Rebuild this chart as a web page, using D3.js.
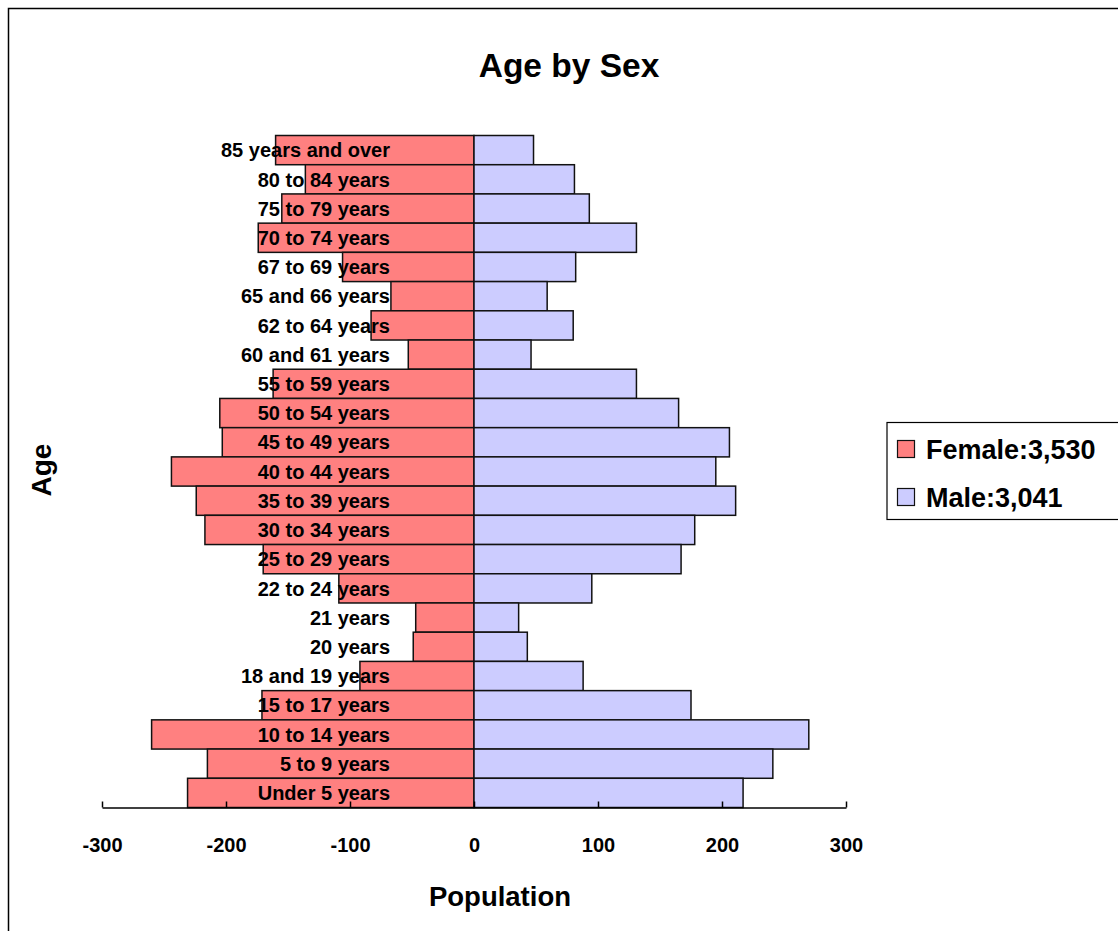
<!DOCTYPE html>
<html>
<head>
<meta charset="utf-8">
<script src="https://cdn.jsdelivr.net/npm/d3@7"></script>
<style>
  html, body { margin: 0; padding: 0; background: #fff; }
  svg { display: block; }
  text { font-family: "Liberation Sans", Arial, sans-serif; fill: #000; }
</style>
</head>
<body>
<svg id="chart" width="1118" height="931"></svg>
<script>
// Data (top to bottom)
const categories = ["85 years and over","80 to 84 years","75 to 79 years","70 to 74 years","67 to 69 years","65 and 66 years","62 to 64 years","60 and 61 years","55 to 59 years","50 to 54 years","45 to 49 years","40 to 44 years","35 to 39 years","30 to 34 years","25 to 29 years","22 to 24 years","21 years","20 years","18 and 19 years","15 to 17 years","10 to 14 years","5 to 9 years","Under 5 years"];
const femaleValues = [160,136,155,174,106,67,83,53,162,205,203,244,224,217,170,109,47,49,92,171,260,215,231];
const maleValues   = [48,81,93,131,82,59,80,46,131,165,206,195,211,178,167,95,36,43,88,175,270,241,217];
const tickValues = [-300,-200,-100,0,100,200,300];
const seriesNames = ["Female:3,530","Male:3,041"];
const colors = ["#FF8080","#CCCCFF"];
const titleText = "Age by Sex";
const xTitle = "Population";
const yTitle = "Age";

const svg = d3.select("#chart");

// outer border
svg.append("rect").attr("x",8.5).attr("y",8.5).attr("width",1300).attr("height",1100)
  .attr("fill","none").attr("stroke","#000").attr("stroke-width",1.5);

const x = d3.scaleLinear().domain([-300,300]).range([102,846]);
const y = d3.scaleBand().domain(categories).range([135.5,807.5]).padding(0);

const rows = categories.map((c,i)=>({c, f: femaleValues[i], m: maleValues[i]}));

svg.append("g").selectAll("rect").data(rows).join("rect")
  .attr("x", d=>x(-d.f)).attr("y", d=>y(d.c))
  .attr("width", d=>x(0)-x(-d.f)).attr("height", y.bandwidth())
  .attr("fill", colors[0]).attr("stroke","#111").attr("stroke-width",1.5);

svg.append("g").selectAll("rect").data(rows).join("rect")
  .attr("x", x(0)).attr("y", d=>y(d.c))
  .attr("width", d=>x(d.m)-x(0)).attr("height", y.bandwidth())
  .attr("fill", colors[1]).attr("stroke","#111").attr("stroke-width",1.5);

// x axis
const axis = svg.append("g").attr("transform","translate(0,807.5)")
  .call(d3.axisBottom(x).tickValues(tickValues).tickSizeInner(-6).tickSizeOuter(0).tickPadding(30).tickFormat(d => String(d)));
axis.select(".domain").attr("stroke","#000").attr("stroke-width",1.5);
axis.selectAll(".tick line").attr("stroke","#000").attr("stroke-width",1.5);
axis.selectAll(".tick text").attr("font-size",20).attr("font-weight","bold")
  .attr("font-family","'Liberation Sans', Arial, sans-serif").attr("fill","#000");

// category labels
svg.append("g").selectAll("text").data(rows).join("text")
  .attr("x", 390).attr("y", d=>y(d.c)+y.bandwidth()/2)
  .attr("dy","0.36em").attr("text-anchor","end")
  .attr("font-size",20).attr("font-weight","bold")
  .text(d=>d.c);

// title
svg.append("text").attr("x",569).attr("y",77).attr("text-anchor","middle")
  .attr("font-size",33.5).attr("font-weight","bold").text(titleText);

svg.append("text").attr("x",500).attr("y",906).attr("text-anchor","middle")
  .attr("font-size",27.5).attr("font-weight","bold").text(xTitle);

svg.append("text").attr("transform","translate(51,470) rotate(-90)").attr("text-anchor","middle")
  .attr("font-size",28).attr("font-weight","bold").text(yTitle);

// legend
const lg = svg.append("g");
lg.append("rect").attr("x",887).attr("y",422.5).attr("width",300).attr("height",97)
  .attr("fill","#fff").attr("stroke","#000").attr("stroke-width",1.2);
seriesNames.forEach((n,i)=>{
  const yy = 440 + i*48;
  lg.append("rect").attr("x",897.5).attr("y",yy+0.5).attr("width",17).attr("height",17)
    .attr("fill",colors[i]).attr("stroke","#111").attr("stroke-width",1.2);
  lg.append("text").attr("x",926).attr("y",yy+19).attr("font-size",27).attr("font-weight","bold").text(n);
});
</script>
</body>
</html>
